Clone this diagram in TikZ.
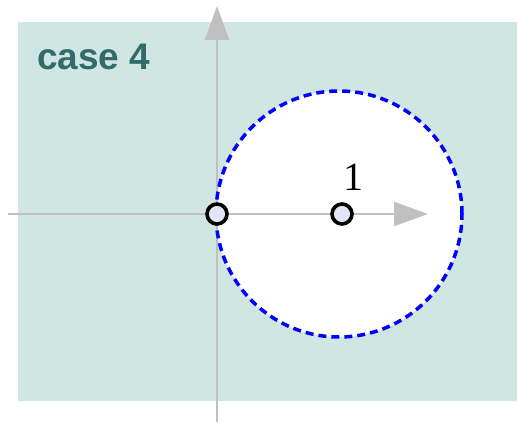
\documentclass[tikz,border=0pt]{standalone}
\usepackage{fontspec}
\setsansfont{Liberation Sans}
\newfontfamily\labelserif{Liberation Serif}
\usetikzlibrary{arrows.meta}
\definecolor{panelteal}{HTML}{CFE6E3}
\definecolor{casetext}{HTML}{336B6B}
\definecolor{axisgray}{HTML}{C0C0C0}
\definecolor{ptfill}{HTML}{E4E4F8}

\begin{document}
\begin{tikzpicture}[x=1pt,y=-1pt,
  axis/.style={axisgray,line width=2pt,-{Triangle[length=34pt,width=24pt]}},
  pt/.style={draw,circle,line width=3.6pt,fill=ptfill,minimum size=20pt,inner sep=0pt},
  disk/.style={blue,line width=3.5pt,dash pattern=on 8pt off 5pt}]
\useasboundingbox (0,0) rectangle (517,422);
\fill[panelteal] (18,22) rectangle (517,401);
\coordinate (ctr) at (339,214);
\fill[white] (ctr) circle[radius=123pt];
% axes
\coordinate (xl) at (8,214); \coordinate (xr) at (428,214);
\coordinate (yb) at (217,422); \coordinate (yt) at (217,6);
\draw[axis] (xl)--(xr);
\draw[axis] (yb)--(yt);
\draw[disk] (ctr) circle[radius=123pt];
\node[pt] (o) at (217,214) {};
\node[pt] (one) at (342,214) {};
\node[font=\labelserif\fontsize{40}{40}\selectfont,inner sep=0pt,anchor=base] (onelbl) at (353,191) {1};
\node[font=\sffamily\bfseries\fontsize{37}{37}\selectfont,text=casetext,inner sep=0pt,anchor=base west] (title) at (37,70) {case 4};
\end{tikzpicture}
\end{document}
